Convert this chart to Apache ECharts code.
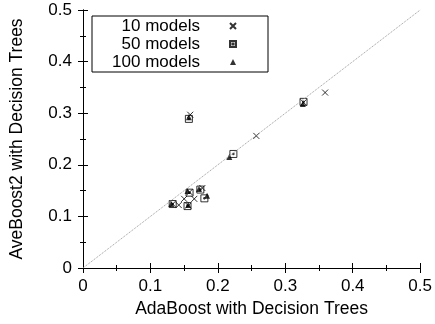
<!DOCTYPE html>
<html>
<head>
<meta charset="utf-8">
<script src="https://cdn.jsdelivr.net/npm/echarts@6/dist/echarts.min.js"></script>
<style>
  html, body { margin: 0; padding: 0; background: #fff; }
  #chart { width: 435px; height: 324px; }
</style>
</head>
<body>
<div id="chart"></div>
<script>
// [AdaBoost, AveBoost2] error pairs
const models10 = [
  [0.159, 0.297], [0.359, 0.340], [0.257, 0.256], [0.177, 0.155],
  [0.158, 0.147], [0.150, 0.134], [0.165, 0.134], [0.142, 0.122],
  [0.327, 0.321], [0.156, 0.121], [0.133, 0.124]
];
const models50 = [
  [0.157, 0.289], [0.327, 0.322], [0.223, 0.221], [0.174, 0.152],
  [0.158, 0.146], [0.180, 0.135], [0.133, 0.124], [0.155, 0.120]
];
const models100 = [
  [0.157, 0.292], [0.326, 0.318], [0.217, 0.215], [0.172, 0.153],
  [0.155, 0.149], [0.184, 0.140], [0.131, 0.124], [0.156, 0.122]
];
const diagonal = [[0, 0], [0.5, 0.5]];
const seriesNames = ['10 models', '50 models', '100 models'];

const font = 'Liberation Sans, Arial, sans-serif';
const crossPath = 'path://M0,0L10,10M10,0L0,10';
const boxDotPath = 'path://M0,0H10V10H0Z M4,4H6V6H4Z';

const chart = echarts.init(document.getElementById('chart'), null, { renderer: 'canvas' });

const baseAxis = {
  type: 'value',
  min: 0,
  max: 0.5,
  interval: 0.1,
  splitLine: { show: false },
  axisLine: { show: true, lineStyle: { color: '#000', width: 1 } },
  axisTick: { show: true, inside: true, length: 5, lineStyle: { color: '#000' } },
  minorTick: { show: true, splitNumber: 2, length: 3, lineStyle: { color: '#000' } },
};

const option = {
  animation: false,
  backgroundColor: '#fff',
  grid: { left: 81, right: 14, top: 10, bottom: 56 },
  legend: {
    orient: 'vertical',
    left: 92,
    top: 16,
    align: 'right',
    padding: [1, 31, 1, 8],
    itemGap: 0,
    itemWidth: 6,
    itemHeight: 6,
    borderColor: '#000',
    borderWidth: 1,
    borderRadius: 0,
    data: seriesNames,
    textStyle: {
      fontFamily: font,
      fontSize: 17,
      color: '#000',
      lineHeight: 18,
      width: 100,
      align: 'right',
      padding: [0, 25, 0, 0]
    }
  },
  xAxis: [
    Object.assign({}, baseAxis, {
      position: 'bottom',
      name: 'AdaBoost with Decision Trees',
      nameLocation: 'middle',
      nameGap: 32,
      nameTextStyle: { fontFamily: font, fontSize: 17.5, color: '#000' },
      axisLabel: {
        fontFamily: font, fontSize: 17, color: '#000', margin: 10,
        formatter: v => String(+v.toFixed(1))
      }
    }),
    Object.assign({}, baseAxis, { position: 'top', axisLabel: { show: false } })
  ],
  yAxis: [
    Object.assign({}, baseAxis, {
      position: 'left',
      name: 'AveBoost2 with Decision Trees',
      nameLocation: 'middle',
      nameGap: 57,
      nameTextStyle: { fontFamily: font, fontSize: 17.5, color: '#000' },
      axisLabel: {
        fontFamily: font, fontSize: 17, color: '#000', margin: 11,
        formatter: v => String(+v.toFixed(1))
      }
    }),
    Object.assign({}, baseAxis, { position: 'right', axisLabel: { show: false } })
  ],
  series: [
    {
      name: 'diagonal',
      type: 'line',
      data: diagonal,
      symbol: 'none',
      silent: true,
      lineStyle: { color: '#999', width: 1, type: [1, 1] }
    },
    {
      name: seriesNames[0],
      type: 'scatter',
      data: models10,
      symbol: crossPath,
      symbolSize: 6,
      itemStyle: { color: 'rgba(0,0,0,0)', borderColor: '#000', borderWidth: 1 }
    },
    {
      name: seriesNames[1],
      type: 'scatter',
      data: models50,
      symbol: boxDotPath,
      symbolSize: 7,
      itemStyle: { color: 'rgba(0,0,0,0)', borderColor: '#000', borderWidth: 1 }
    },
    {
      name: seriesNames[2],
      type: 'scatter',
      data: models100,
      symbol: 'triangle',
      symbolSize: 6,
      itemStyle: { color: '#000' }
    }
  ]
};

chart.setOption(option);
</script>
</body>
</html>
